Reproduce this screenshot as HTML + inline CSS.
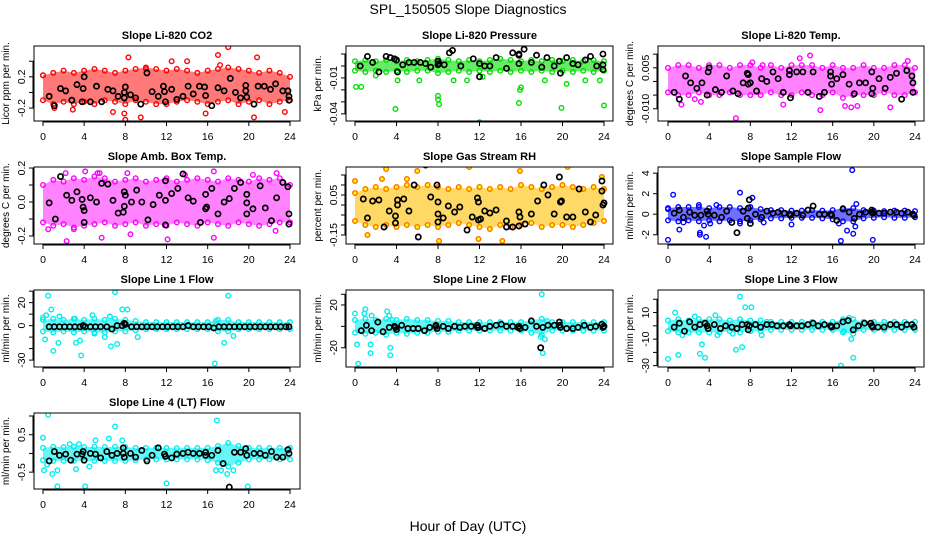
<!DOCTYPE html>
<html><head><meta charset="utf-8"><style>
body{margin:0;background:#fff}
svg{display:block;font-family:"Liberation Sans",sans-serif}
</style></head><body>
<svg id="chart" width="936" height="540" viewBox="0 0 936 540" xmlns="http://www.w3.org/2000/svg">
<rect width="936" height="540" fill="#fff"/>
<text x="468" y="14" text-anchor="middle" font-size="14">SPL_150505  Slope Diagnostics</text>
<text x="468" y="531" text-anchor="middle" font-size="14">Hour of Day (UTC)</text>
</svg>
<script>
const xTicks=[0,4,8,12,16,20,24];
const hours=[0,1,2,3,4,5,6,7,8,9,10,11,12,13,14,15,16,17,18,19,20,21,22,23,24];

const co2Up=[0.22,0.25,0.28,0.25,0.28,0.3,0.28,0.25,0.28,0.3,0.32,0.3,0.28,0.3,0.28,0.25,0.28,0.3,0.32,0.3,0.28,0.25,0.28,0.25,0.2];
const co2Lo=[-0.1,-0.15,-0.12,-0.15,-0.12,-0.15,-0.1,-0.12,-0.15,-0.1,-0.12,-0.15,-0.15,-0.12,-0.1,-0.12,-0.15,-0.12,-0.1,-0.15,-0.12,-0.1,-0.15,-0.12,-0.1];
const co2Out=[[8.3,0.45],[17,0.48],[18,0.58],[20.8,0.45],[12.5,0.4],[14,0.4],[7.9,-0.27],[9.5,-0.32],[20.5,-0.32],[1.1,-0.2],[2.9,-0.22],[6.8,-0.25],[15.8,-0.27],[23.5,-0.25],[10,0.3],[17.2,0.35],[0,0.22],[8,-0.35]];
const co2Blk=[[0.6,-0.05],[1.1,-0.17],[1.7,0.05],[2.2,0.02],[2.8,-0.1],[3.3,0.1],[3.8,-0.12],[3.9,0.05],[4,0.2],[4.6,-0.12],[5.2,0.08],[5.7,-0.12],[6.3,0.04],[6.8,0.02],[7.3,-0.05],[7.9,0],[7.9,-0.07],[8,0.07],[8.5,-0.03],[9,-0.07],[9.5,-0.15],[10.1,0.25],[10.6,0.01],[11.2,-0.05],[11.7,0.08],[11.8,0.01],[11.9,-0.12],[12.5,0.04],[13,-0.09],[13.6,-0.05],[14.1,0.08],[14.6,-0.02],[15.2,0.08],[15.7,0.07],[15.8,-0.04],[16.4,-0.17],[17,0.06],[17.6,0.02],[18.2,0.18],[18.7,0],[19.2,-0.07],[19.7,0.09],[19.7,0.02],[19.8,-0.06],[20.5,-0.15],[20.9,0.08],[21.5,0.08],[22.1,0.04],[22.6,0.11],[23.3,0.02],[23.8,0.02],[23.9,-0.05],[23.9,-0.1]];

const presUp=[0.004,0.005,0.004,0.005,0.004,0.005,0.004,0.005,0.006,0.005,0.004,0.005,0.004,0.005,0.006,0.005,0.004,0.005,0.004,0.005,0.004,0.005,0.004,0.005,0.004];
const presLo=[-0.004,-0.005,-0.004,-0.005,-0.004,-0.005,-0.004,-0.004,-0.006,-0.005,-0.004,-0.005,-0.004,-0.005,-0.004,-0.005,-0.004,-0.005,-0.004,-0.005,-0.004,-0.005,-0.004,-0.005,-0.004];
const presOut=[[0.1,-0.0175],[0.6,-0.0175],[3.9,-0.036],[8,-0.025],[8,-0.028],[8.1,-0.032],[12,-0.047],[15.8,-0.031],[15.9,-0.02],[16,-0.018],[19.9,-0.035],[20.4,-0.015],[24,-0.033],[4.1,-0.012],[6.2,-0.012],[9.5,-0.012],[10.8,-0.012],[18.3,-0.012],[22.2,-0.012],[23.6,-0.012],[2,-0.008],[12.3,-0.009]];
const presBlk=[[0.5,0],[1.2,0.008],[1.7,0.003],[2.3,-0.005],[3,0.008],[3.4,0.007],[3.8,0.006],[4,0.005],[4.1,-0.005],[4.6,0.001],[5.2,0.003],[5.7,0.003],[6.3,0.003],[6.8,0.002],[7.3,-0.001],[8,0.004],[8,0.001],[8.1,0.002],[8.6,0.001],[9.1,0.011],[9.4,0.013],[10.2,0],[11.4,0.006],[12,0.002],[12,-0.009],[12.5,0],[13,0],[13.6,0.007],[14.6,-0.002],[15.2,0.011],[15.8,0.01],[15.8,0.009],[15.8,0.002],[16.3,0.014],[17,0.003],[17.5,0.009],[18,-0.001],[18.5,0.007],[19.2,0],[19.7,0.004],[19.8,-0.006],[20.4,0.007],[21,0.002],[21.5,0.001],[22.2,0.005],[22.7,0.008],[23.3,0],[23.9,0.01],[23.9,0.001],[23.9,-0.003]];

const tempUp=[0.005,0.006,0.006,0.005,0.006,0.006,0.005,0.006,0.006,0.005,0.006,0.005,0.006,0.006,0.006,0.005,0.006,0.005,0.005,0.006,0.005,0.005,0.006,0.006,0.005];
const tempLo=[-0.004,-0.005,-0.005,-0.004,-0.005,-0.005,-0.004,-0.005,-0.005,-0.005,-0.004,-0.005,-0.005,-0.004,-0.005,-0.005,-0.004,-0.006,-0.005,-0.005,-0.005,-0.004,-0.005,-0.005,-0.004];
const tempOut=[[6.6,-0.0135],[14.8,-0.0105],[13.8,0.0095],[12.8,0.0085],[1.3,-0.0085],[11.2,-0.0085],[21.6,-0.0095],[17.2,-0.009],[8.2,0.007],[23.3,0.0075],[3.2,-0.0075],[9.2,0.006],[17.8,-0.0095],[18.4,-0.009],[2.6,-0.0065]];
const tempBlk=[[0.6,-0.004],[1.1,-0.0065],[1.7,0.002],[2.2,-0.0005],[2.8,-0.0025],[3.3,-0.0005],[3.8,-0.005],[3.9,0.0035],[4,0.005],[4.6,-0.003],[5.2,-0.004],[5.7,0.002],[6.3,-0.0035],[6.8,-0.0045],[7.3,-0.0005],[7.7,0.003],[7.8,0.0025],[7.8,-0.001],[8,-0.0005],[8.6,-0.0035],[9.1,0.001],[9.6,0],[10.2,0.0035],[10.7,0.001],[11.2,-0.004],[11.8,0.004],[11.8,0.0025],[11.9,-0.006],[12.5,0.0035],[13.1,0.0035],[13.6,-0.004],[14.1,0.0035],[14.7,-0.0055],[15.2,-0.004],[15.8,0.0035],[15.8,0.002],[15.9,-0.001],[16.4,0.001],[17,0.0025],[17.6,-0.001],[18.1,-0.0045],[18.6,-0.0005],[19.2,-0.0005],[19.8,0.0035],[19.8,-0.0045],[19.9,-0.0025],[20.5,0.001],[21.1,-0.0025],[21.6,0.0015],[22.2,0.003],[22.7,-0.0065],[23.2,0.004],[23.7,0.002],[23.8,-0.0005],[23.8,-0.004]];

const ambUp=[0.1,0.13,0.12,0.14,0.13,0.15,0.14,0.12,0.13,0.14,0.12,0.13,0.14,0.12,0.13,0.14,0.13,0.12,0.14,0.13,0.12,0.14,0.13,0.14,0.1];
const ambLo=[-0.12,-0.14,-0.13,-0.15,-0.14,-0.13,-0.12,-0.14,-0.13,-0.12,-0.14,-0.13,-0.14,-0.12,-0.13,-0.14,-0.12,-0.13,-0.14,-0.12,-0.13,-0.14,-0.13,-0.12,-0.12];
const ambOut=[[0.5,-0.16],[2.3,-0.23],[4.1,0.18],[5.3,0.17],[5.5,0.17],[5.7,-0.21],[8.2,0.17],[8.5,-0.19],[12.1,-0.22],[13.8,0.16],[16.6,-0.21],[16.6,0.18],[22.6,-0.17],[22.7,0.17],[20.4,0.16],[2.2,0.17],[3,-0.16]];
const ambBlk=[[0.6,-0.005],[1.2,-0.1],[1.7,0.15],[2.3,0.04],[2.8,0.01],[3.3,0.06],[3.8,0.015],[3.9,-0.03],[4,-0.05],[4,-0.12],[4.6,0.025],[5.2,0],[5.7,0.11],[6.3,0.105],[6.8,0.01],[7.3,-0.065],[7.8,-0.06],[7.9,0.06],[7.9,-0.025],[8,0.04],[8.6,0],[9.1,0.07],[9.6,0],[10.2,-0.105],[10.7,-0.015],[11.3,0.04],[11.9,0.125],[11.9,0.01],[11.9,-0.135],[12.5,0.05],[13.1,0.08],[13.6,0.165],[14.1,0.025],[14.6,0.005],[15.3,-0.12],[15.8,0.045],[15.8,-0.04],[15.9,-0.03],[16.4,0.08],[17,-0.07],[17.6,0],[18.1,0.02],[18.6,0.08],[19.2,0.115],[19.8,0.045],[19.8,-0.005],[19.8,-0.07],[20.4,-0.04],[21.1,0.095],[21.6,-0.035],[22.2,-0.11],[22.7,0.025],[23.3,0.115],[23.8,0.09],[23.9,-0.07],[23.9,-0.13]];

const rhUp=[0.06,0.08,0.09,0.08,0.09,0.1,0.09,0.1,0.09,0.08,0.09,0.08,0.09,0.08,0.09,0.08,0.1,0.09,0.08,0.09,0.1,0.09,0.08,0.09,0.08];
const rhLo=[-0.08,-0.1,-0.11,-0.1,-0.11,-0.1,-0.11,-0.1,-0.11,-0.1,-0.09,-0.1,-0.11,-0.12,-0.1,-0.11,-0.1,-0.09,-0.11,-0.1,-0.1,-0.11,-0.1,-0.09,-0.08];
const rhOut=[[0,0.12],[3,0.18],[6,0.17],[11,0.19],[20.5,0.19],[23.8,0.14],[3.2,-0.22],[8.1,-0.18],[19,-0.21],[1.2,-0.15],[11.9,-0.17],[15.9,0.17],[2.6,0.13],[14.2,-0.18],[5,0.13]];
const rhBlk=[[0.8,0.03],[1.2,-0.065],[1.7,0.02],[2.3,0.025],[2.8,-0.11],[3.3,-0.03],[3.9,-0.09],[3.9,-0.055],[4.1,0],[4.1,0.025],[4.7,0.03],[5.2,-0.03],[5.7,0.1],[6.1,-0.16],[6.8,0.2],[7.3,0.04],[7.9,0.1],[8,0.015],[8,-0.045],[8,-0.085],[8.5,-0.065],[9,-0.005],[9.6,-0.035],[10.1,-0.01],[10.8,-0.125],[11.3,-0.06],[11.8,0.035],[11.9,0.015],[11.9,-0.075],[12.1,-0.07],[12.5,-0.03],[13,-0.04],[13.6,-0.025],[14.6,-0.08],[14.6,-0.11],[15.2,-0.11],[15.8,-0.105],[15.8,-0.035],[15.9,-0.06],[16.4,-0.095],[17,-0.045],[17.6,0.02],[18.2,0.1],[18.6,0.05],[19.2,-0.045],[19.7,0.14],[19.8,0.015],[19.9,0.02],[20.4,-0.06],[21,-0.06],[21.6,0.08],[22.2,-0.035],[22.7,-0.085],[23.2,-0.05],[23.8,0.12],[23.8,0.07],[23.9,0],[24,0.01]];

const sfUp=[0.6,0.7,0.7,0.7,0.6,0.7,0.7,0.6,0.7,0.5,0.4,0.4,0.35,0.35,0.4,0.35,0.4,0.6,0.6,0.4,0.35,0.3,0.35,0.35,0.3];
const sfLo=[-0.6,-0.7,-0.6,-0.7,-0.6,-0.7,-0.6,-0.7,-0.6,-0.5,-0.4,-0.4,-0.35,-0.35,-0.35,-0.4,-0.5,-0.7,-0.7,-0.4,-0.35,-0.3,-0.35,-0.35,-0.3];
const sfOut=[[0,-2.5],[0.5,1.9],[1.1,-1.5],[1.5,-0.8],[3.1,-1.8],[3.1,-2],[3.7,-2.2],[3.5,-1.1],[4.1,-0.9],[7,2.1],[8.2,1.6],[9.3,-0.8],[12,-1],[16.8,-2.6],[17.4,-1.6],[17.9,4.3],[18,-1.9],[18.3,1],[19.9,-2.5],[18.2,-1.2],[7,-0.9],[3,0.9],[4.7,0.9],[0,0.5],[16.6,-0.9]];
const sfBlk=[[0.6,0.1],[1.1,0.4],[1.5,-0.3],[2.1,0.2],[2.6,-0.1],[3.2,-0.1],[3.8,0.3],[3.9,0],[4.5,-0.1],[5.2,-0.3],[5.7,0.3],[6.2,-0.8],[6.7,-1.8],[7.3,0.3],[7.7,-0.4],[7.8,0.6],[7.9,1.4],[8,-0.9],[8.5,0],[9.1,-0.3],[9.6,0.3],[10.2,0.1],[10.7,0.2],[11.3,0.1],[11.8,0],[11.9,-0.1],[12.5,0.1],[13.1,-0.1],[13.6,0.4],[14.1,0.8],[14.7,0],[15.2,0],[15.8,0],[15.9,-0.1],[16.4,-0.6],[17,0.5],[17.6,0.2],[18.1,-0.4],[18.6,0],[19.2,0.2],[19.8,0.4],[19.8,0.2],[19.9,0.1],[20.5,0.1],[21,0.1],[21.6,0.2],[22.2,0.2],[22.7,0.1],[23.3,0.2],[23.8,0],[23.9,-0.1]];

const l1Up=[5,6,5,6,5,6,5,6,5,4,3,3,3,3,3,3,3,5,5,3,3,3,3,3,3];
const l1Lo=[-5,-6,-5,-6,-5,-6,-6,-5,-5,-4,-3,-3,-3,-3,-3,-3,-3,-5,-5,-3,-3,-3,-3,-3,-3];
const l1Out=[[0,7],[0.2,-12],[0.5,26],[0.8,14],[1,-22],[1.5,-15],[1.6,8],[3.1,6],[3.2,-15],[3.6,-13],[3.7,-26],[4.8,9],[5,-7],[6,-10],[6.6,-18],[7,29],[7.2,-16],[7.7,14],[8.2,14],[9.2,-10],[16.7,-33],[16.8,4],[17.6,-15],[18,26],[18.5,-9],[0.3,9],[6.5,8]];
const l1Blk=[[0.6,-1],[1.1,-1],[1.6,-1],[2.1,-1],[2.6,-1],[3.1,-1],[3.6,-1],[3.9,0],[4.1,-1],[4.6,-1],[5.1,-1],[5.6,-1],[6.2,-1],[6.7,-3],[7.2,0],[7.7,0],[7.9,2],[8,1],[8.6,-1],[9.1,-1],[9.6,-1],[10.1,-1],[10.6,-1],[11.1,-1],[11.6,-1],[12.1,-1],[12.6,-1],[13.1,-1],[13.6,-1],[14.1,0],[14.6,-1],[15.1,-1],[15.6,-1],[16.1,-1],[16.6,-2],[17.1,-1],[17.6,-1],[18.1,-1],[18.6,-1],[19.1,-1],[19.6,-1],[20.1,-1],[20.6,-1],[21.1,-1],[21.6,-1],[22.1,-1],[22.6,-1],[23.1,-1],[23.6,-1],[23.9,-1]];

const l2Up=[6,7,6,7,6,7,6,6,5,5,4,4,4,4,4,4,4,6,7,4,4,4,4,4,4];
const l2Lo=[-6,-7,-6,-8,-6,-7,-6,-6,-5,-5,-4,-4,-4,-4,-4,-4,-4,-6,-8,-4,-4,-4,-4,-4,-4];
const l2Out=[[0.5,40],[0,12],[0.2,-17],[0.3,-35],[0.9,12],[1,16],[1.5,-25],[1.5,-17],[1.6,10],[3.1,14],[3.3,10],[3.4,-20],[3.4,-27],[3.6,6],[18,30],[18.1,-25],[18.3,-12],[17.9,-10],[18.5,5]];
const l2Blk=[[0.6,-4],[1.1,1],[1.6,-4],[2.2,4],[2.7,-5],[3.3,-1],[3.8,0],[3.9,-1],[4,-3],[4.5,1],[5.1,-2],[5.6,-2],[6.1,-2],[6.7,-4],[7.2,-1],[7.8,0],[7.8,1],[7.9,-2],[8.5,0],[9,-2],[9.6,0],[10.1,-1],[10.6,0],[11.2,0],[11.8,1],[11.8,-1],[11.9,-1],[12.5,-2],[13,0],[13.6,1],[14.1,2],[14.6,0],[15.2,0],[15.7,-1],[15.8,0],[15.9,-2],[16.4,-1],[17,5],[17.5,0],[17.9,-20],[18.1,-1],[18.6,1],[19.2,1],[19.7,4],[19.7,1],[19.8,-1],[20.4,-2],[21,-2],[21.5,-1],[22.1,1],[22.7,-1],[23.2,0],[23.8,2],[23.9,-1],[24,0]];

const l3Up=[4,5,4,5,5,5,4,5,4,4,3,3,3,3,3,3,3,5,5,3,3,3,3,3,3];
const l3Lo=[-4,-5,-5,-5,-5,-5,-4,-5,-4,-4,-3,-3,-3,-3,-3,-3,-3,-5,-6,-3,-3,-3,-3,-3,-3];
const l3Out=[[0.7,10],[1,-22],[0,-25],[1.4,-7],[2.6,7],[3.1,-21],[3.3,-14],[3.6,-24],[4.6,8],[4.8,-7],[6.3,-6],[6.6,-18],[7,22],[7.2,-16],[7.5,14],[8.1,14],[9.1,-7],[9.6,3],[16.8,-30],[17.1,-4],[17.6,6],[17.8,-10],[18,-24],[18.2,-2]];
const l3Blk=[[0.6,-1],[1.1,2],[1.6,-4],[2.1,3],[2.6,-1],[3.1,1],[3.6,2],[3.8,0],[3.9,-2],[4.5,1],[5.1,-2],[5.6,0],[6.2,-1],[6.7,-2],[7.2,1],[7.7,1],[7.8,-3],[7.9,0],[8.5,1],[9,-1],[9.6,1],[10.1,1],[10.6,0],[11.2,0],[11.8,1],[11.9,0],[12.5,0],[13,0],[13.6,1],[14.1,2],[14.6,0],[15.2,1],[15.8,0],[15.9,-1],[16.4,0],[17,3],[17.5,4],[18,-3],[18.5,0],[19.1,2],[19.7,2],[19.8,0],[19.9,-1],[20.4,-1],[21,-1],[21.6,1],[22.2,1],[22.7,-1],[23.2,1],[23.7,1],[23.9,-1]];

const l4Up=[0.15,0.18,0.17,0.18,0.17,0.18,0.17,0.18,0.17,0.15,0.15,0.15,0.15,0.14,0.15,0.15,0.15,0.2,0.28,0.2,0.15,0.15,0.15,0.15,0.15];
const l4Lo=[-0.18,-0.2,-0.2,-0.2,-0.2,-0.2,-0.2,-0.2,-0.2,-0.18,-0.16,-0.16,-0.16,-0.16,-0.16,-0.16,-0.18,-0.25,-0.35,-0.25,-0.16,-0.16,-0.16,-0.16,-0.16];
const l4Out=[[0,0.42],[0.5,1.03],[0.1,-0.45],[0.4,-0.3],[0.9,-0.55],[1.4,-0.45],[1.4,-0.88],[2.6,0.25],[3.2,-0.42],[3.5,0.25],[4.1,-0.88],[4.5,-0.35],[5.1,0.35],[6.4,0.4],[7,0.72],[7.7,0.35],[12,-0.8],[16.8,-0.45],[16.9,0.88],[17.3,-0.45],[17.9,-0.55],[18.5,-0.45],[19.9,-0.88]];
const l4Blk=[[0.6,-0.2],[1.1,0.05],[1.6,-0.05],[2.2,-0.02],[2.7,-0.18],[3.3,-0.02],[3.8,-0.02],[3.9,0.05],[4,-0.18],[4.6,0],[5.1,-0.02],[5.6,-0.12],[6.2,0.05],[6.7,-0.05],[7.2,0],[7.8,0.15],[7.8,0],[7.9,-0.1],[8.5,0],[9,-0.1],[9.6,0.08],[10.1,-0.2],[10.6,-0.05],[11.2,0.15],[11.8,-0.02],[11.9,-0.08],[12.5,-0.12],[13,-0.02],[13.6,0],[14.1,0.03],[14.6,0],[15.2,0],[15.8,0.03],[15.8,-0.05],[16.4,-0.05],[17,0.08],[17.5,-0.27],[18.1,-0.9],[18.6,0.03],[19.2,0.03],[19.7,0.13],[19.8,-0.05],[20.5,0],[21.1,0],[21.6,-0.05],[22.2,0.05],[22.7,-0.1],[23.3,-0.1],[23.8,0.1],[23.9,0]];

const co2Ticks=[-0.2,0,0.2,0.4], co2Labels=["-0.2","","0.2",""];
const presTicks=[0.01,0,-0.01,-0.02,-0.03,-0.04], presLabels=["","","-0.01","","","-0.04"];
const tempTicks=[0.01,0.005,0,-0.005,-0.01], tempLabels=["","0.005","","","-0.010"];
const ambTicks=[0.2,0.1,0,-0.1,-0.2], ambLabels=["0.2","","0.0","","-0.2"];
const rhTicks=[0.15,0.1,0.05,0,-0.05,-0.1,-0.15], rhLabels=["","","0.05","","","","-0.15"];
const sfTicks=[4,2,0,-2], sfLabels=["4","2","0","-2"];
const l1Ticks=[30,20,10,0,-10,-20,-30], l1Labels=["","20","","0","","","-30"];
const l2Ticks=[30,20,0,-20], l2Labels=["","20","","-20"];
const l3Ticks=[20,10,0,-10,-20,-30], l3Labels=["","10","","-10","","-30"];
const l4Ticks=[1,0.5,0,-0.5], l4Labels=["","0.5","","-0.5"];

const svg=document.getElementById('chart');
const NS='http://www.w3.org/2000/svg';
function mk(tag,attrs,parent){const e=document.createElementNS(NS,tag);for(const k in attrs)e.setAttribute(k,attrs[k]);(parent||svg).appendChild(e);return e;}
const cols=[{l:34,r:300,x0:43,x24:290},{l:346,r:613,x0:355,x24:604},{l:658,r:924,x0:668,x24:915}];
const rows=[{t:46,b:121},{t:167,b:244},{t:290,b:367},{t:413,b:489}];

function panel(id,title,ylab,col,row,ymin,ymax,ticks,labels,up,lo,out,blk,stroke,fill,bandFill){
  const c=cols[col],r=rows[row];
  const g=mk('g',{});
  
  
  const X=h=>c.x0+(c.x24-c.x0)*h/24;
  const Y=v=>r.b-(v-ymin)/(ymax-ymin)*(r.b-r.t);
  const cp=mk('clipPath',{id:'cp'+id},g);
  mk('rect',{x:c.l,y:r.t,width:c.r-c.l,height:r.b-r.t},cp);
  const pg=mk('g',{'clip-path':'url(#cp'+id+')'},g);
  let pts=hours.map((h,i)=>X(h)+','+Y(up[i]));
  for(let i=hours.length-1;i>=0;i--)pts.push(X(hours[i])+','+Y(lo[i]));
  const band=mk('polygon',{points:pts.join(' '),fill:bandFill,opacity:0.6},pg);
  
  
  const dot=(h,v,s,f,rad,w,name)=>{const e=mk('circle',{cx:X(h),cy:Y(v),r:rad,fill:f,stroke:s,'stroke-width':w},pg);
    
    };
  hours.forEach((h,i)=>{dot(h,up[i],stroke,fill,2.3,1.4,id+'-point');dot(h,lo[i],stroke,fill,2.3,1.4,id+'-point');});
  out.forEach(p=>dot(p[0],p[1],stroke,fill,2.3,1.4,id+'-point'));
  blk.forEach(p=>dot(p[0],p[1],'#000','none',2.6,1.7,id+'-mean-point'));
  const box=mk('rect',{x:c.l,y:r.t,width:c.r-c.l,height:r.b-r.t,fill:'none',stroke:'#000','stroke-width':1},g);
  
  
  const t=mk('text',{x:(c.l+c.r)/2,y:r.t-7,'text-anchor':'middle','font-size':11,'font-weight':'bold'},g);
  t.textContent=title;
  
  
  mk('line',{x1:X(0),x2:X(24),y1:r.b+1,y2:r.b+1,stroke:'#000'},g);
  xTicks.forEach(h=>{mk('line',{x1:X(h),x2:X(h),y1:r.b,y2:r.b+5,stroke:'#000'},g);
    const tl=mk('text',{x:X(h),y:r.b+19,'text-anchor':'middle','font-size':10.5},g);tl.textContent=h;
    
    });
  const tv=ticks.map(Y);
  mk('line',{x1:c.l-1,x2:c.l-1,y1:Math.min(...tv),y2:Math.max(...tv),stroke:'#000'},g);
  ticks.forEach((v,i)=>{const y=Y(v);mk('line',{x1:c.l-5,x2:c.l,y1:y,y2:y,stroke:'#000'},g);
    if(labels[i]){const tl=mk('text',{x:c.l-9,y:y,'text-anchor':'middle','font-size':10.5,transform:'rotate(-90 '+(c.l-9)+' '+y+')'},g);tl.textContent=labels[i];
    
    }});
  const ym=(r.t+r.b)/2, yx=c.l-25;
  const yt=mk('text',{x:yx,y:ym,'text-anchor':'middle','font-size':10,transform:'rotate(-90 '+yx+' '+ym+')'},g);
  yt.textContent=ylab;
  
  
}
panel('co2','Slope Li-820 CO2','Licor ppm per min.',0,0,-0.366,0.595,co2Ticks,co2Labels,co2Up,co2Lo,co2Out,co2Blk,'#ff0000','none','#ff2020');
panel('pressure','Slope Li-820 Pressure','kPa per min.',1,0,-0.046,0.0167,presTicks,presLabels,presUp,presLo,presOut,presBlk,'#00e000','none','#00dd00');
panel('temp','Slope Li-820 Temp.','degrees C per min.',2,0,-0.0145,0.013,tempTicks,tempLabels,tempUp,tempLo,tempOut,tempBlk,'#ff00ff','none','#ff30ff');
panel('amb-temp','Slope Amb. Box Temp.','degrees C per min.',0,1,-0.247,0.206,ambTicks,ambLabels,ambUp,ambLo,ambOut,ambBlk,'#ff00ff','none','#ff30ff');
panel('rh','Slope Gas Stream RH','percent per min.',1,1,-0.195,0.19,rhTicks,rhLabels,rhUp,rhLo,rhOut,rhBlk,'#ff7000','#ffff00','#ffc000');
panel('sample-flow','Slope Sample Flow','ml/min per min.',2,1,-2.9,4.6,sfTicks,sfLabels,sfUp,sfLo,sfOut,sfBlk,'#0000ff','none','#1010ff');
panel('line1','Slope Line 1 Flow','ml/min per min.',0,2,-36,31,l1Ticks,l1Labels,l1Up,l1Lo,l1Out,l1Blk,'#00eeee','none','#00f0f0');
panel('line2','Slope Line 2 Flow','ml/min per min.',1,2,-38,34,l2Ticks,l2Labels,l2Up,l2Lo,l2Out,l2Blk,'#00eeee','none','#00f0f0');
panel('line3','Slope Line 3 Flow','ml/min per min.',2,2,-31,27,l3Ticks,l3Labels,l3Up,l3Lo,l3Out,l3Blk,'#00eeee','none','#00f0f0');
panel('line4','Slope Line 4 (LT) Flow','ml/min per min.',0,3,-0.95,1.08,l4Ticks,l4Labels,l4Up,l4Lo,l4Out,l4Blk,'#00eeee','none','#00f0f0');
</script>
</body></html>
